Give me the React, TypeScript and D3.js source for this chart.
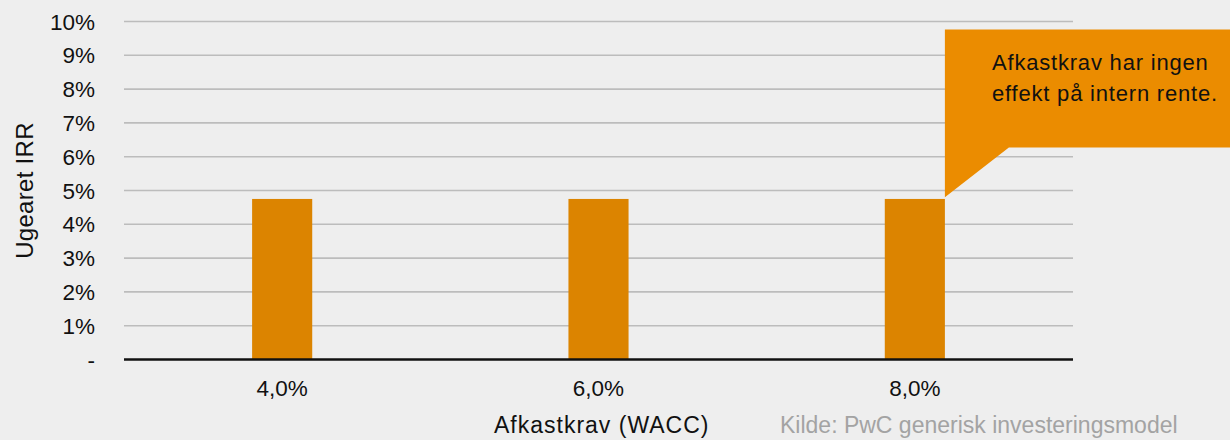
import React from 'react';
import * as d3 from 'd3';

// WACC scenarios on x, unlevered IRR (%) on y
const categories = ['4,0%', '6,0%', '8,0%'];
const irrValues = [4.75, 4.75, 4.75];
const yTicks = [0, 1, 2, 3, 4, 5, 6, 7, 8, 9, 10];
const yTickLabels = ['-', '1%', '2%', '3%', '4%', '5%', '6%', '7%', '8%', '9%', '10%'];
const calloutLines = ['Afkastkrav har ingen', 'effekt på intern rente.'];

const W = 1230;
const H = 440;
const FONT = '"Liberation Sans", Arial, Helvetica, sans-serif';

export default function App() {
  const x = d3.scaleBand<string>()
    .domain(categories)
    .range([124, 1073])
    .paddingInner(0.81)
    .paddingOuter(0.405);

  const y = d3.scaleLinear()
    .domain([0, 10])
    .range([359.5, 21.5]);

  // callout bubble pointing at the last bar
  const lastX = x(categories[2])! + x.bandwidth();
  const boxTop = 29.5;
  const boxBottom = 147.5;
  const tip = y(irrValues[2] + 0.05);
  const bubble = d3.path();
  bubble.moveTo(lastX, boxTop);
  bubble.lineTo(W, boxTop);
  bubble.lineTo(W, boxBottom);
  bubble.lineTo(lastX + 64, boxBottom);
  bubble.lineTo(lastX, tip);
  bubble.closePath();

  return (
    <div>
      <style>{`body{margin:0;background:#eeeeee}`}</style>
      <svg width={W} height={H} style={{ display: 'block', background: '#eeeeee', fontFamily: FONT }}>
        {/* gridlines */}
        {yTicks.filter(t => t > 0).map(t => (
          <line key={t} x1={124} x2={1073} y1={y(t)} y2={y(t)} stroke="#bcbcbc" strokeWidth={1.6} />
        ))}
        {/* y tick labels */}
        {yTicks.map((t, i) => (
          <text key={'yl' + t} x={95} y={y(t) + 8} textAnchor="end" fontSize={22.5} fill="#111">
            {yTickLabels[i]}
          </text>
        ))}
        {/* bars */}
        {categories.map((c, i) => (
          <rect key={c} x={x(c)} y={y(irrValues[i])} width={x.bandwidth()} height={y(0) - y(irrValues[i])} fill="#dc8400" />
        ))}
        {/* baseline */}
        <line x1={124} x2={1073} y1={y(0)} y2={y(0)} stroke="#111" strokeWidth={2.5} />
        {/* x tick labels */}
        {categories.map(c => (
          <text key={'xl' + c} x={x(c)! + x.bandwidth() / 2} y={396} textAnchor="middle" fontSize={22.5} fill="#111">
            {c}
          </text>
        ))}
        {/* axis titles */}
        <text x={494} y={433} fontSize={23} letterSpacing={1} fill="#111">Afkastkrav (WACC)</text>
        <text transform={`translate(33,${y(5)}) rotate(-90)`} textAnchor="middle" fontSize={24} letterSpacing={0.3} fill="#111">Ugearet IRR</text>
        <text x={780} y={433} fontSize={23} fill="#a3a3a3">Kilde: PwC generisk investeringsmodel</text>
        {/* callout */}
        <path d={bubble.toString()} fill="#eb8c00" />
        {calloutLines.map((l, i) => (
          <text key={l} x={992} y={70 + i * 31} fontSize={22} letterSpacing={0.8} fill="#111">{l}</text>
        ))}
      </svg>
    </div>
  );
}
